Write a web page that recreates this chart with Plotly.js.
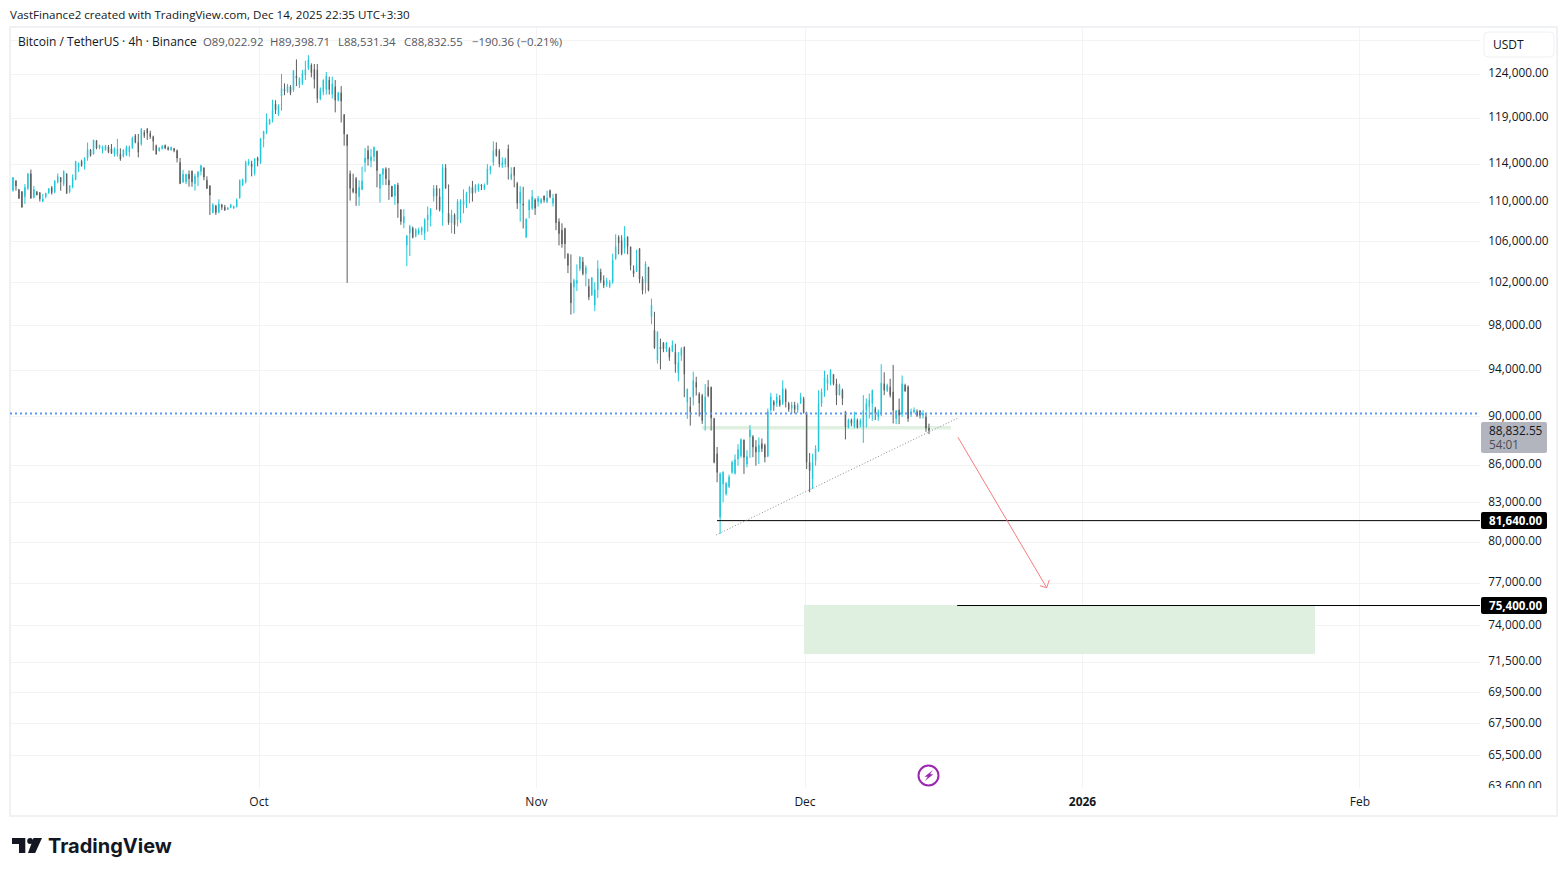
<!DOCTYPE html>
<html>
<head>
<meta charset="utf-8">
<script src="https://cdn.plot.ly/plotly-3.0.1.min.js"></script>
<style>html,body{margin:0;padding:0;background:#fff;overflow:hidden}#chart{width:1568px;height:876px}</style>
</head>
<body>
<div id="chart"></div>
<script>
const highs = [
111780,112630,112290,111370,111160,111880,113010,113420,111680,111160,
111060,110860,110990,111470,111680,112290,113010,112630,113320,113010,
111780,112910,114360,114180,114470,114720,116320,115630,116610,116610,
116100,115990,116060,116060,116170,115810,116720,115700,115590,115990,
115990,116970,117260,117260,117910,117690,117910,117620,117080,116100,
115810,116060,116100,115920,115880,115740,115560,114650,113390,112980,
113320,113320,112980,113250,113930,113660,112700,111780,109900,109730,
110310,109830,109730,109490,109830,109660,110410,112360,112460,114360,
114540,114360,114650,114800,116830,117620,119540,118930,121090,121020,
120550,124040,122950,122880,122760,124500,125740,123650,124500,125590,
126250,125280,125200,125200,122490,123420,124270,123730,123730,123340,
121980,122640,119470,117190,113320,112980,112630,112290,113730,115740,
115990,115630,115880,115450,112980,113590,113660,113590,111680,111880,
112020,109290,109290,106680,107700,107530,107360,107420,107530,108370,
109560,109390,111780,111780,111440,114000,114000,111850,109220,108870,
110310,110310,111330,111090,111680,112220,111880,111950,111880,111950,
114000,113830,116460,116350,115630,114720,114720,116100,113660,113660,
112120,111680,111610,108360,110310,111270,110410,110650,110410,110680,
111200,111330,110860,110860,108360,107850,107400,104890,104760,102390,
103790,104570,104500,103690,102390,102550,102060,104180,103370,102720,
102490,102290,104830,106750,106650,106650,107570,106550,105540,103690,
105220,105380,102620,104080,103530,100510,99270,97480,96810,96500,
96500,96040,96650,96350,95590,96040,96100,92360,91650,93860,
93410,92070,91930,92780,93120,92560,89890,87470,85420,85500,
84630,85240,86360,86860,87700,88170,88090,87200,89280,88450,
88030,88250,88170,87750,90680,92020,91390,91960,91820,93100,
92390,91250,91250,91250,91160,92020,91680,90400,86970,86920,
87610,92240,92390,93950,93610,94090,93660,93240,92810,92390,
90480,89830,89830,90400,89830,89830,91820,91530,91960,92300,
90820,90600,94520,93810,92810,93240,94460,90540,91530,93520,
92810,92670,90680,90770,90600,90540,90540,90260,89398.71];
const lows = [
110680,111090,111200,110340,109460,109830,111270,110380,110410,110720,
110070,110030,110410,110860,110790,110920,111950,111200,111680,110860,
110920,111440,112290,113150,113730,113420,114360,114800,115010,115590,
115590,115160,115450,115160,115090,114800,114800,114360,114720,114870,
114800,115630,116240,114720,115990,116820,116610,116720,115450,115010,
115340,115560,115590,115450,115450,115270,114180,111880,112020,111880,
111610,111610,111200,111680,112800,112290,111370,108700,108870,108700,
108870,109210,109110,109210,109390,109320,109460,110380,111680,111950,
113830,112700,112800,113760,114000,115810,117260,118280,118530,119470,
119270,119850,121600,121870,121600,121980,122640,122410,122760,123340,
124500,123650,122370,120710,121020,121600,121670,121670,121210,119660,
120900,118530,115990,102000,110170,110920,109630,109630,111260,113150,
113830,113660,114290,111540,109970,111780,111780,110240,110580,109730,
108410,107700,107360,103610,104590,106340,106440,106680,106680,106170,
107020,107530,110070,109220,109050,107600,111440,107700,106850,106780,
107530,107870,108870,109390,109900,110070,110920,111090,111260,111260,
111780,112910,113830,114800,113660,113590,113660,112360,112290,111540,
109320,108020,107330,106380,108360,109210,108700,109560,109830,109970,
109900,110410,109560,107160,105640,105410,104340,102940,99020,99120,
101220,103140,102720,101660,100360,100820,99330,100570,101970,101500,
101600,101500,101910,104240,104760,104670,104830,104760,103200,102550,
103040,101970,100910,100980,101190,98120,95890,94580,94060,95590,
95590,94820,95590,93770,93010,94820,91650,89800,89240,90940,
91790,90000,89380,88820,91650,88820,86140,84630,80630,83050,
83580,84180,85290,85240,85950,86580,85290,85820,86580,86640,
85950,86080,87060,86220,86640,90400,90480,90820,90820,90970,
90770,90400,90260,90260,90310,91110,90260,85680,83840,84100,
85950,87060,90820,91680,92240,92670,92670,90970,91820,90970,
88090,89000,89190,89000,89000,89080,87810,89080,89830,89640,
89700,89640,90030,91820,92100,91620,89420,89360,89360,89970,
92100,89550,89970,90260,89970,89830,89830,88720,88531.34];
const opens = [
110990,111260,112220,111330,111090,110580,111440,112980,110480,111090,
110990,110070,110580,110990,111540,111060,112090,112570,111950,112980,
111090,111610,112360,113660,114290,114000,114650,115520,115090,116530,
115740,115630,115520,115880,115670,115090,115010,115090,114800,115010,
115270,115810,117080,116350,116170,117440,117800,117330,116970,115990,
115450,115670,116030,115740,115520,115670,115450,114180,112090,112120,
112910,113250,111950,112630,113250,113590,112290,111680,108940,109630,
108970,109730,109490,109280,109460,109390,109560,110440,111780,112120,
114000,114000,112980,114650,114180,116720,117440,118350,118890,120630,
119470,121480,122260,121980,122570,122180,123810,122760,122950,123920,
124700,125090,124580,124500,121210,121980,122260,123340,121710,122570,
121020,121870,119390,117190,112980,111440,112460,110580,111330,114180,
115450,114360,114800,115380,111440,112910,113490,112290,111680,110650,
111780,109220,107870,105670,106850,107360,106580,106850,107020,106850,
108200,108620,110580,111440,110580,108870,113590,108870,107870,108700,
108200,109220,109730,109900,110920,111540,111090,111260,111780,111400,
111880,113320,114180,115630,115450,113830,114000,115630,112460,113660,
111950,109900,109830,106480,109210,109390,110240,110070,109970,110650,
110070,111200,109900,110860,108020,107160,107330,104760,101970,101600,
101970,103370,104020,102880,101660,100820,99890,101350,103040,102230,
101850,101660,102060,104340,106480,106140,105410,106480,105480,103200,
103140,105320,102390,101970,103530,98810,97570,94880,96040,96410,
95890,95890,95680,95590,93770,95280,96040,91220,90850,91650,
92930,91930,91790,90370,92500,92500,89830,86920,81900,84500,
83710,84290,85420,85350,86500,86750,88030,86080,88310,88310,
87470,87060,87750,87610,86700,90540,91250,91110,91390,91110,
92240,91110,90680,90970,90540,91110,91530,90310,86220,84890,
86360,87200,91110,92100,92810,93240,93610,92810,91820,92240,
90400,89080,89700,89190,89700,89280,89140,90540,90820,91110,
90680,89970,90260,92810,92190,92530,92100,89830,90540,90260,
92670,92530,90260,90400,90400,90480,90110,89970,89022.92];
const closes = [
111710,112560,111680,110410,109490,111540,112980,110410,111330,110750,
110340,110340,110920,111400,110990,112220,112700,112120,113250,110920,
111680,112570,114290,114070,113830,114650,115590,114910,116610,115740,
116030,115880,115990,115270,115160,115630,115630,114540,115520,115810,
115880,116820,116350,115270,117800,117080,117330,116970,116460,115090,
115740,115920,115740,115590,115810,115450,114650,111950,112910,112910,
112460,112120,112700,113150,113830,112630,111440,110750,109730,108940,
109830,109490,109210,109420,109730,109560,110240,112290,112360,114180,
114290,113730,114540,114360,116720,117550,118530,118860,119930,119930,
120430,122370,122100,122640,121870,124430,123530,123530,124120,124580,
125670,124190,123420,121210,122180,123340,123810,122260,122880,121020,
121870,120940,117260,115990,111440,111090,110920,111540,112220,114650,
114540,114800,115810,113320,112910,113490,112460,111780,110580,111810,
109900,108040,108550,106580,107530,106440,107190,107190,107360,108200,
108700,109290,111440,110650,109220,113590,111440,107930,108700,107700,
110070,110170,110170,110920,111540,110920,111780,111850,111680,111780,
113490,113730,115450,114910,114000,114180,114540,113660,112980,112800,
109900,111090,109730,108260,110170,110580,109390,110410,110310,110240,
110410,110580,110410,107920,106820,105800,105800,103690,100110,102230,
102230,104500,102880,103460,100670,102490,101350,103370,102230,101750,
102230,102060,104180,105540,105870,104830,106410,105540,103690,102880,
103690,102390,101290,103850,101290,99890,95980,97420,95890,95890,
96410,95130,96200,94520,94670,95890,93630,92360,90370,93070,
92500,91140,89660,91650,91790,89890,86220,85420,85290,85420,
84550,85030,86220,86420,87250,88090,86640,86700,88860,87470,
87060,87610,87330,86640,90400,91680,90970,91680,90970,92390,
91250,90600,90970,90600,90970,91680,90310,86220,85550,86220,
87330,91110,92100,93380,93240,93950,92810,91820,92670,91530,
89140,89700,89420,89830,89080,89640,90540,91110,91390,92240,
90260,90400,92870,92240,92670,91820,90540,90480,90110,92810,
92190,89830,90400,90540,90110,90110,90260,89030,88832.55];

const tickPrices = [63600,65500,67500,69500,71500,74000,77000,80000,83000,86000,90000,94000,98000,102000,106000,110000,114000,119000,124000,128000];
const tickLabels = ["63,600.00","65,500.00","67,500.00","69,500.00","71,500.00","74,000.00","77,000.00","80,000.00","83,000.00","86,000.00","90,000.00","94,000.00","98,000.00","102,000.00","106,000.00","110,000.00","114,000.00","119,000.00","124,000.00",""];
const timeTicks = ["2025-10-01","2025-11-01","2025-12-01","2026-01-01","2026-02-01"];
const timeLabels = ["Oct","Nov","Dec","<b>2026</b>","Feb"];

const startMs = Date.UTC(2025,8,3,4,20);
const times = closes.map((_,i)=>new Date(startMs+i*8*3600*1000).toISOString().slice(0,19).replace("T"," "));

const FONT = '"Open Sans", sans-serif';
const INK = "#131722";
const PX = x=>(x-10)/1470, PY = y=>(788-y)/760;

function note(x,y,text,opt){
  return Object.assign({xref:"paper",yref:"paper",x:PX(x-1),y:PY(y),text:text,showarrow:false,xanchor:"left",yanchor:"middle",
    borderpad:0,font:{family:FONT,size:12,color:INK}},opt||{});
}
function roundRect(x0,y0,x1,y1,r){
  const X=PX,Y=PY;
  return `M${X(x0+r)},${Y(y0)} L${X(x1-r)},${Y(y0)} Q${X(x1)},${Y(y0)} ${X(x1)},${Y(y0+r)} L${X(x1)},${Y(y1-r)} Q${X(x1)},${Y(y1)} ${X(x1-r)},${Y(y1)} L${X(x0+r)},${Y(y1)} Q${X(x0)},${Y(y1)} ${X(x0)},${Y(y1-r)} L${X(x0)},${Y(y0+r)} Q${X(x0)},${Y(y0)} ${X(x0+r)},${Y(y0)} Z`;
}
function poly(points){
  return "M"+points.map(p=>PX(p[0])+","+PY(p[1])).join(" L")+" Z";
}
const paperShape = (path,fill,line)=>({type:"path",xref:"paper",yref:"paper",path:path,fillcolor:fill,line:line||{width:0},layer:"above"});
const ARROW = {color:"#f77c80",width:1};
const dataLine = (x0,x1,y0,y1,line)=>({type:"line",xref:"x",yref:"y",x0,x1,y0,y1,line,layer:"above"});

const shapes = [
  // outer frame
  {type:"rect",xref:"paper",yref:"paper",x0:PX(10),x1:PX(1557),y0:PY(27),y1:PY(816),line:{color:"#f0f1f4",width:2},fillcolor:"rgba(0,0,0,0)",layer:"above"},
  // clip strip under the price scale
  {type:"rect",xref:"paper",yref:"paper",x0:PX(1481),x1:PX(1555),y0:PY(788),y1:PY(814),line:{width:0},fillcolor:"#ffffff",layer:"above"},
  // zones
  {type:"rect",xref:"x",yref:"y",x0:"2025-11-30 21:20",x1:"2026-01-26 23:20",y0:75440,y1:72050,fillcolor:"#dfefe0",line:{width:0},layer:"between"},
  {type:"rect",xref:"x",yref:"y",x0:"2025-11-19 11:45",x1:"2025-12-17 07:30",y0:89200,y1:88910,fillcolor:"#dfefe0",line:{width:0},layer:"between"},
  // price lines
  {type:"line",xref:"paper",yref:"y",x0:0,x1:PX(1478),y0:90260,y1:90260,line:{color:"#5b95f5",width:2,dash:"2px,3px"},layer:"above"},
  dataLine("2025-11-21 04:00","2026-02-14 09:50",81640,81640,{color:"#000000",width:1}),
  dataLine("2025-12-18 00:00","2026-02-14 09:50",75400,75400,{color:"#000000",width:1}),
  // trend line
  dataLine("2025-11-21 01:30","2025-12-18 00:15",80550,89850,{color:"#8a8d96",width:1,dash:"1px,2px"}),
  // target arrow
  dataLine("2025-12-18 02:00","2025-12-28 00:00",88270,76670,ARROW),
  dataLine("2025-12-27 06:00","2025-12-28 00:00",76810,76670,ARROW),
  dataLine("2025-12-28 07:00","2025-12-28 00:00",77225,76670,ARROW),
  // USDT box
  paperShape(roundRect(1484,32,1554,57,4),"#ffffff",{color:"#eef0f4",width:1}),
  // last price & level badges
  paperShape(roundRect(1481,422,1547,453,2),"#b2b5be"),
  paperShape(roundRect(1481,512,1547,529,2),"#000000"),
  paperShape(roundRect(1481,597,1547,614,2),"#000000"),
  // logo
  paperShape(poly([[12,838],[25.3,838],[25.3,853],[19,853],[19,844],[12,844]]),"#131722"),
  {type:"circle",xref:"paper",yref:"paper",x0:PX(27.2),x1:PX(33),y0:PY(838),y1:PY(844),fillcolor:"#131722",line:{width:0},layer:"above"},
  paperShape(poly([[33.5,838],[42,838],[35.2,853],[28,853]]),"#131722"),
  // source marker
  {type:"circle",xref:"paper",yref:"paper",x0:PX(918.5),x1:PX(938.5),y0:PY(765.5),y1:PY(785.5),fillcolor:"#ffffff",line:{color:"#9c27b0",width:2},layer:"above"},
  paperShape(poly([[933,770],[924.5,776.8],[927.8,776.8],[924.8,781],[933.4,774.2],[930,774.2]]),"#9c27b0")
];

const VALUE = {family:FONT,size:11.4,color:"#55585f"};
const annotations = [
  note(18,42,"Bitcoin / TetherUS · 4h · Binance"),
  note(203,42,"O89,022.92",{font:VALUE}),
  note(270,42,"H89,398.71",{font:VALUE}),
  note(338,42,"L88,531.34",{font:VALUE}),
  note(404,42,"C88,832.55",{font:VALUE}),
  note(472,42,"−190.36 (−0.21%)",{font:VALUE}),
  note(1493,44.5,"USDT"),
  note(1489,429.5,"88,832.55",{font:{family:FONT,size:11.8,color:INK}}),
  note(1489,444,"54:01",{font:{family:FONT,size:11.8,color:"#4a4d55"}}),
  note(1489,520,"<b>81,640.00</b>",{font:{family:FONT,size:11.6,color:"#ffffff"}}),
  note(1489,605,"<b>75,400.00</b>",{font:{family:FONT,size:11.6,color:"#ffffff"}}),
  note(48,846,"<b>TradingView</b>",{font:{family:"Inter, sans-serif",size:20,color:"#131722"}})
];

const trace = {
  type:"candlestick",x:times,open:opens,high:highs,low:lows,close:closes,
  increasing:{line:{color:"#1fc6da",width:1},fillcolor:"#1fc6da"},
  decreasing:{line:{color:"#5d5d5d",width:1},fillcolor:"#5d5d5d"},
  whiskerwidth:0,hoverinfo:"skip",showlegend:false
};

const layout = {
  width:1568,height:876,
  margin:{l:10,r:88,t:28,b:88,pad:0},
  paper_bgcolor:"#ffffff",plot_bgcolor:"#ffffff",
  boxgap:0.75,
  title:{text:"VastFinance2 created with TradingView.com, Dec 14, 2025 22:35 UTC+3:30",x:10/1568,xanchor:"left",xref:"container",y:1-15/876,yanchor:"middle",yref:"container",font:{family:FONT,size:11.6,color:INK}},
  showlegend:false,
  xaxis:{type:"date",range:["2025-09-03 04:20","2026-02-14 09:50"],tickvals:timeTicks,ticktext:timeLabels,tickmode:"array",
    showgrid:true,gridcolor:"#f3f3f4",gridwidth:1,zeroline:false,showline:false,ticks:"outside",ticklen:3,tickcolor:"rgba(0,0,0,0)",
    tickangle:0,rangeslider:{visible:false},tickfont:{family:FONT,size:12,color:INK},fixedrange:true},
  yaxis:{type:"log",side:"right",range:[4.80316,5.11226],tickmode:"array",tickvals:tickPrices,ticktext:tickLabels,
    showgrid:true,gridcolor:"#f3f3f4",gridwidth:1,zeroline:false,showline:false,ticks:"outside",ticklen:5,tickcolor:"rgba(0,0,0,0)",
    ticklabelshift:-1,tickfont:{family:FONT,size:11.8,color:INK},fixedrange:true},
  shapes:shapes,annotations:annotations
};
Plotly.newPlot("chart",[trace],layout,{displayModeBar:false,staticPlot:true});
</script>
</body>
</html>
